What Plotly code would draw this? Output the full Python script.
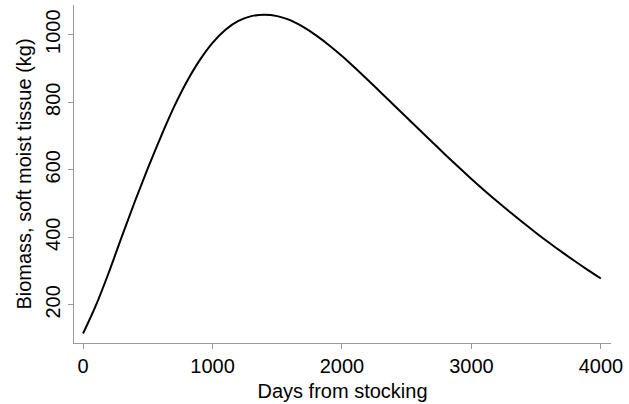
import plotly.graph_objects as go

days = [0, 100, 200, 300, 400, 500, 600, 700, 800, 900, 1000, 1100, 1200, 1300,
        1400, 1500, 1600, 1700, 1800, 1900, 2000, 2100, 2200, 2300, 2400, 2500,
        2600, 2700, 2800, 2900, 3000, 3100, 3200, 3300, 3400, 3500, 3600, 3700,
        3800, 3900, 4000]
biomass = [115, 199, 297, 403, 506, 604, 697, 784, 860, 924, 976, 1015, 1041, 1055,
           1059, 1055, 1043, 1023, 998, 969, 937, 902, 866, 829, 792, 755,
           718, 681, 644, 608, 573, 539, 506, 474, 443, 413, 384, 356,
           329, 303, 278]
x_ticks = [0, 1000, 2000, 3000, 4000]
y_ticks = [200, 400, 600, 800, 1000]

fig = go.Figure(go.Scatter(x=days, y=biomass, mode="lines",
                           line=dict(color="black", width=2, shape="spline"),
                           showlegend=False))

font = "Liberation Sans, Arial, sans-serif"
axis_common = dict(showgrid=False, zeroline=False, showline=True, linecolor="#9a9a9a",
                   linewidth=1, ticks="outside", ticklen=5, tickcolor="#9a9a9a",
                   automargin=False,
                   tickfont=dict(family=font, size=20, color="black"))
fig.update_layout(
    width=629, height=404,
    margin=dict(l=74, r=18, t=5, b=61),
    paper_bgcolor="white", plot_bgcolor="white",
    xaxis=dict(range=[-70, 4078], tickvals=x_ticks,
               title=dict(text="Days from stocking", font=dict(family=font, size=20, color="black"),
                          standoff=7),
               **axis_common),
    yaxis=dict(range=[87, 1088], tickvals=y_ticks, tickangle=-90,
               title=dict(text="Biomass, soft moist tissue (kg)",
                          font=dict(family=font, size=20, color="black"), standoff=5),
               **axis_common),
)
fig.write_html("out.html", config={"displayModeBar": False},
               post_script="document.body.style.margin='0';")
